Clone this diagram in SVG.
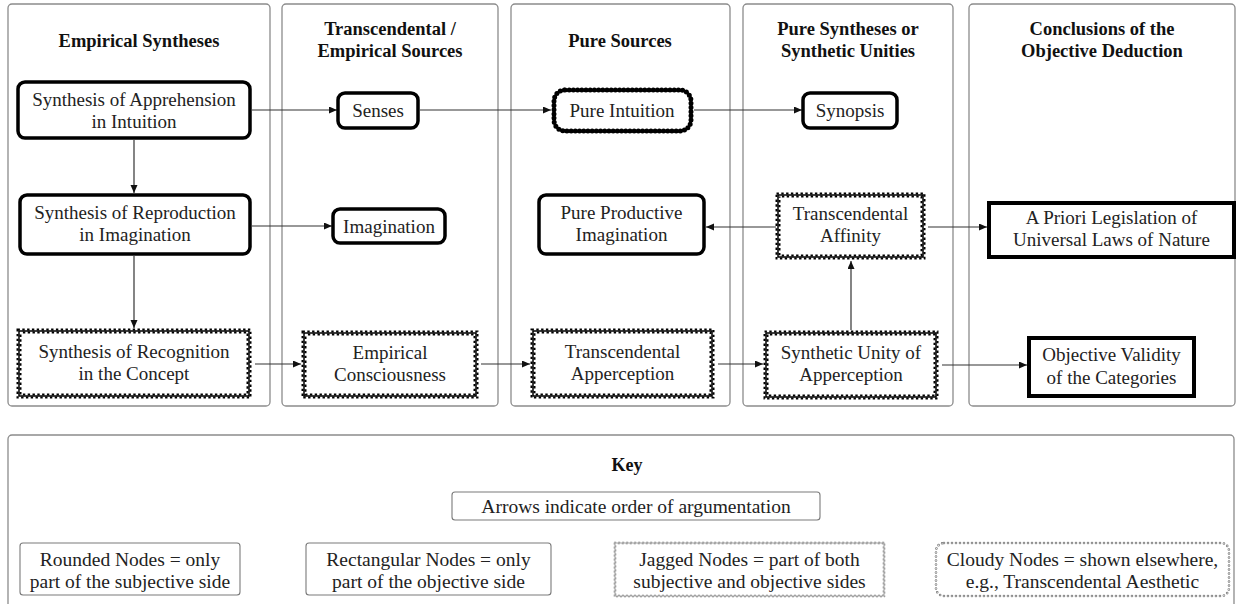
<svg xmlns="http://www.w3.org/2000/svg" width="1239" height="604" viewBox="0 0 1239 604">
<style>
text{font-family:'Liberation Serif','Tinos','Nimbus Roman','FreeSerif','Noto Serif','DejaVu Serif','Times New Roman',Times,serif;font-weight:400;fill:#222;text-anchor:middle}
.t{font-size:19px}
.k{font-size:19.5px}
.h{font-size:18.5px;font-weight:700;fill:#111}
.panel{fill:none;stroke:#8c8c8c;stroke-width:1.3}
.round{fill:#fff;stroke:#000;stroke-width:3.5}
.rect{fill:#fff;stroke:#000;stroke-width:4}
.jag{fill:#fff;stroke:#000;stroke-width:1.5}
.jo{fill:none;stroke:#000;stroke-width:2;stroke-dasharray:2.4 2.4}
.ji{fill:none;stroke:#000;stroke-width:2;stroke-dasharray:2.4 2.4;stroke-dashoffset:2.4}
.cloud{fill:#fff;stroke:#000;stroke-width:2.5}
.cloudt{fill:none;stroke:#000;stroke-width:5;stroke-linecap:round;stroke-dasharray:0 4.2}
.key{fill:#fff;stroke:#7a7a7a;stroke-width:1.1}
.kjag{fill:none;stroke:#888;stroke-width:0.8}
.kjo{fill:none;stroke:#888;stroke-width:0.9;stroke-dasharray:2 2}
.kji{fill:none;stroke:#888;stroke-width:0.9;stroke-dasharray:2 2;stroke-dashoffset:2}
.kcl{fill:none;stroke:#777;stroke-width:2.6;stroke-linecap:round;stroke-dasharray:0 4}
.kclw{fill:none;stroke:#fff;stroke-width:1.2;stroke-linecap:round;stroke-dasharray:0 4}
.edge{fill:none;stroke:#333;stroke-width:1.2;marker-end:url(#ah)}
</style>
<defs>
<marker id="ah" markerUnits="userSpaceOnUse" markerWidth="9" markerHeight="8" refX="8" refY="3.5" orient="auto">
<path d="M0,0 L8,3.5 L0,7 z" fill="#111"/>
</marker>
</defs>
<rect width="1239" height="604" fill="#fff"/>

<g id="panels">
<rect class="panel" x="8" y="4" width="262" height="402" rx="4"/>
<rect class="panel" x="282" y="4" width="216" height="402" rx="4"/>
<rect class="panel" x="511" y="4" width="219" height="402" rx="4"/>
<rect class="panel" x="743" y="4" width="210" height="402" rx="4"/>
<rect class="panel" x="969" y="4" width="266" height="402" rx="4"/>
<text class="h" x="139" y="47">Empirical Syntheses</text>
<text class="h" x="390" y="35">Transcendental /</text>
<text class="h" x="390" y="57">Empirical Sources</text>
<text class="h" x="620" y="47">Pure Sources</text>
<text class="h" x="848" y="35">Pure Syntheses or</text>
<text class="h" x="848" y="57">Synthetic Unities</text>
<text class="h" x="1102" y="35">Conclusions of the</text>
<text class="h" x="1102" y="57">Objective Deduction</text>
</g>

<g id="connectors">
<path class="edge" d="M252,110 H337"/>
<path class="edge" d="M420,110 H551"/>
<path class="edge" d="M694,110 H802"/>
<path class="edge" d="M134,140 V193"/>
<path class="edge" d="M252,226 H332"/>
<path class="edge" d="M134,256 V328"/>
<path class="edge" d="M255,364 H301"/>
<path class="edge" d="M481,364 H530"/>
<path class="edge" d="M718,364 H763"/>
<path class="edge" d="M851,330 V261"/>
<path class="edge" d="M776,227 H706"/>
<path class="edge" d="M928,227 H987"/>
<path class="edge" d="M942,365 H1027"/>
</g>

<g id="n-apprehension">
<rect class="round" x="18" y="82" width="232" height="56" rx="7"/>
<text class="t" x="134" y="105.5">Synthesis of Apprehension</text>
<text class="t" x="134" y="127.5">in Intuition</text>
</g>
<g id="n-senses">
<rect class="round" x="338" y="93" width="80" height="35" rx="7"/>
<text class="t" x="378" y="117">Senses</text>
</g>
<g id="n-pure-intuition">
<rect class="cloud" x="554" y="90" width="137" height="41" rx="11"/>
<rect class="cloudt" x="554" y="90" width="137" height="41" rx="11"/>
<rect x="557" y="93" width="131" height="35" rx="9" fill="#fff"/>
<text class="t" x="622" y="117">Pure Intuition</text>
</g>
<g id="n-synopsis">
<rect class="round" x="803" y="93" width="94" height="35" rx="7"/>
<text class="t" x="850" y="117">Synopsis</text>
</g>
<g id="n-reproduction">
<rect class="round" x="20" y="195" width="230" height="59" rx="7"/>
<text class="t" x="135" y="219">Synthesis of Reproduction</text>
<text class="t" x="135" y="241">in Imagination</text>
</g>
<g id="n-imagination">
<rect class="round" x="333" y="209" width="112" height="34" rx="7"/>
<text class="t" x="389" y="232.5">Imagination</text>
</g>
<g id="n-pure-productive">
<rect class="round" x="539" y="195" width="165" height="59" rx="7"/>
<text class="t" x="621.5" y="219">Pure Productive</text>
<text class="t" x="621.5" y="241">Imagination</text>
</g>
<g id="n-affinity">
<rect class="jag" x="778" y="195" width="145" height="62"/>
<rect class="jo" x="776.5" y="193.5" width="148" height="65"/>
<rect class="ji" x="779.5" y="196.5" width="142" height="59"/>
<text class="t" x="850.5" y="220">Transcendental</text>
<text class="t" x="850.5" y="242">Affinity</text>
</g>
<g id="n-apriori">
<rect class="rect" x="989" y="203" width="245" height="54"/>
<text class="t" x="1111.5" y="224">A Priori Legislation of</text>
<text class="t" x="1111.5" y="246">Universal Laws of Nature</text>
</g>
<g id="n-recognition">
<rect class="jag" x="19" y="331" width="230" height="65"/>
<rect class="jo" x="17.5" y="329.5" width="233" height="68"/>
<rect class="ji" x="20.5" y="332.5" width="227" height="62"/>
<text class="t" x="134" y="358">Synthesis of Recognition</text>
<text class="t" x="134" y="380">in the Concept</text>
</g>
<g id="n-empirical-consciousness">
<rect class="jag" x="304" y="333" width="172" height="63"/>
<rect class="jo" x="302.5" y="331.5" width="175" height="66"/>
<rect class="ji" x="305.5" y="334.5" width="169" height="60"/>
<text class="t" x="390" y="359">Empirical</text>
<text class="t" x="390" y="381">Consciousness</text>
</g>
<g id="n-transcendental-apperception">
<rect class="jag" x="533" y="331" width="179" height="65"/>
<rect class="jo" x="531.5" y="329.5" width="182" height="68"/>
<rect class="ji" x="534.5" y="332.5" width="176" height="62"/>
<text class="t" x="622.5" y="358">Transcendental</text>
<text class="t" x="622.5" y="380">Apperception</text>
</g>
<g id="n-synthetic-unity">
<rect class="jag" x="766" y="333" width="170" height="64"/>
<rect class="jo" x="764.5" y="331.5" width="173" height="67"/>
<rect class="ji" x="767.5" y="334.5" width="167" height="61"/>
<text class="t" x="851" y="359">Synthetic Unity of</text>
<text class="t" x="851" y="381">Apperception</text>
</g>
<g id="n-objective-validity">
<rect class="rect" x="1029" y="338" width="165" height="58"/>
<text class="t" x="1111.5" y="361">Objective Validity</text>
<text class="t" x="1111.5" y="384">of the Categories</text>
</g>

<g id="key">
<rect class="panel" x="8" y="435" width="1226" height="175" rx="4"/>
<text class="h" x="627" y="471" style="font-size:18px">Key</text>
<rect class="key" x="452" y="492" width="368" height="28" rx="3"/>
<text class="k" x="636" y="512.5">Arrows indicate order of argumentation</text>
<rect class="key" x="20" y="543" width="220" height="52" rx="3"/>
<text class="k" x="130" y="566">Rounded Nodes = only</text>
<text class="k" x="130" y="588">part of the subjective side</text>
<rect class="key" x="306" y="543" width="245" height="52" rx="3"/>
<text class="k" x="428.5" y="566">Rectangular Nodes = only</text>
<text class="k" x="428.5" y="588">part of the objective side</text>
<rect class="kjag" x="615" y="543" width="269" height="53"/>
<rect class="kjo" x="614.2" y="542.2" width="270.6" height="54.6"/>
<rect class="kji" x="615.8" y="543.8" width="267.4" height="51.4"/>
<text class="k" x="749.5" y="566">Jagged Nodes = part of both</text>
<text class="k" x="749.5" y="588">subjective and objective sides</text>
<rect class="kcl" x="936" y="543" width="293" height="53" rx="8"/>
<rect class="kclw" x="936" y="543" width="293" height="53" rx="8"/>
<text class="k" x="1082.5" y="566">Cloudy Nodes = shown elsewhere,</text>
<text class="k" x="1082.5" y="588">e.g., Transcendental Aesthetic</text>
</g>
</svg>
